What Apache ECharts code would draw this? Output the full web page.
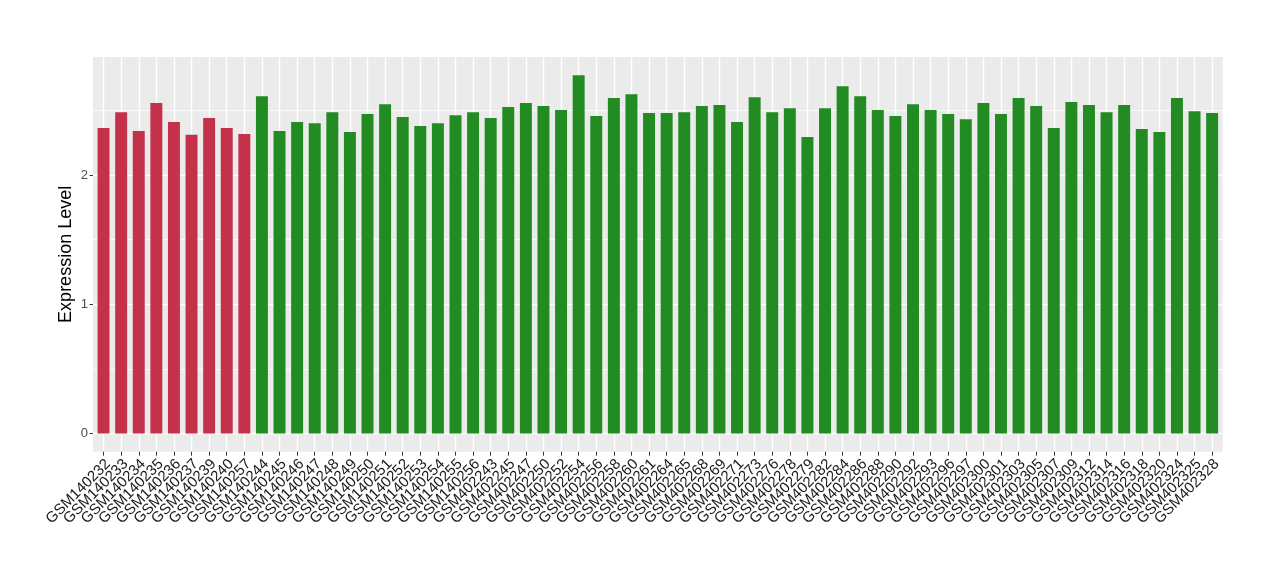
<!DOCTYPE html>
<html>
<head>
<meta charset="utf-8">
<script src="https://cdn.jsdelivr.net/npm/echarts@6/dist/echarts.min.js"></script>
<style>html,body{margin:0;padding:0;background:#fff}#c{width:1280px;height:580px}</style>
</head>
<body>
<div id="c"></div>
<script>
const categories = [
  'GSM140232','GSM140233','GSM140234','GSM140235','GSM140236','GSM140237','GSM140239','GSM140240','GSM140257',
  'GSM140244','GSM140245','GSM140246','GSM140247','GSM140248','GSM140249','GSM140250','GSM140251','GSM140252',
  'GSM140253','GSM140254','GSM140255','GSM140256',
  'GSM402243','GSM402245','GSM402247','GSM402250','GSM402252','GSM402254','GSM402256','GSM402258','GSM402260',
  'GSM402261','GSM402264','GSM402265','GSM402268','GSM402269','GSM402271','GSM402273','GSM402276','GSM402278',
  'GSM402279','GSM402282','GSM402284','GSM402286','GSM402288','GSM402290','GSM402292','GSM402293','GSM402296',
  'GSM402297','GSM402300','GSM402301','GSM402303','GSM402305','GSM402307','GSM402309','GSM402312','GSM402314',
  'GSM402316','GSM402318','GSM402320','GSM402324','GSM402325','GSM402328'
];
const values = [
  2.363, 2.486, 2.340, 2.556, 2.409, 2.311, 2.440, 2.363, 2.317,
  2.610, 2.340, 2.409, 2.400, 2.486, 2.332, 2.471, 2.548, 2.448,
  2.378, 2.400, 2.463, 2.486,
  2.440, 2.525, 2.556, 2.533, 2.502, 2.772, 2.456, 2.595, 2.625,
  2.479, 2.479, 2.486, 2.533, 2.541, 2.409, 2.602, 2.486, 2.517,
  2.293, 2.517, 2.687, 2.610, 2.502, 2.456, 2.548, 2.502, 2.471,
  2.432, 2.556, 2.471, 2.595, 2.533, 2.363, 2.564, 2.541, 2.486,
  2.541, 2.355, 2.332, 2.595, 2.494, 2.479
];
const groups = [
  'A','A','A','A','A','A','A','A','A',
  'B','B','B','B','B','B','B','B','B','B','B','B','B',
  'B','B','B','B','B','B','B','B','B','B','B','B','B','B','B','B','B','B','B','B','B',
  'B','B','B','B','B','B','B','B','B','B','B','B','B','B','B','B','B','B','B','B','B'
];
const groupColors = { A: '#C4314B', B: '#228B22' };
const yTicks = [0, 1, 2];
const yTitle = 'Expression Level';

// layout
const P = { left: 93, right: 1222.7, top: 57, bottom: 451.7 };
const y0 = 433.6, unit = 129.3;
const W = P.right - P.left, H = P.bottom - P.top;
const n = categories.length;
const u = W / (n + 0.2);
const labelShift = 4.5;
const FONT = 'Liberation Sans, Arial, Helvetica, sans-serif';

const chart = echarts.init(document.getElementById('c'));
chart.setOption({
  animation: false,
  textStyle: { fontFamily: FONT },
  grid: [
    { left: P.left, top: P.top, width: W, height: H, show: true, backgroundColor: '#EBEBEB', borderWidth: 0 },
    { left: P.left, top: y0 - 3 * unit, width: W, height: 3 * unit },
    { left: P.left + 0.6 * u, top: P.top, width: W - 1.2 * u, height: H },
    { left: P.left + 0.1 * u, top: y0 - 3 * unit, width: W - 0.2 * u, height: 3 * unit },
    { left: P.left + 0.6 * u + labelShift, top: P.top, width: W - 1.2 * u, height: H }
  ],
  xAxis: [
    { gridIndex: 0, type: 'value', show: false },
    { gridIndex: 1, type: 'value', show: false },
    { gridIndex: 2, type: 'category', boundaryGap: false, data: categories,
      axisLine: { show: false },
      axisTick: { show: true, length: 4, lineStyle: { color: '#333', width: 1 }, interval: 0 },
      axisLabel: { show: false },
      splitLine: { show: true, interval: 0, lineStyle: { color: '#FFFFFF', width: 1.4 } } },
    { gridIndex: 3, type: 'category', data: categories, show: false },
    { gridIndex: 4, type: 'category', boundaryGap: false, data: categories,
      axisLine: { show: false }, axisTick: { show: false }, splitLine: { show: false },
      axisLabel: { interval: 0, rotate: 45, fontSize: 15, color: '#1A1A1A', margin: 10, fontFamily: FONT } }
  ],
  yAxis: [
    { gridIndex: 0, type: 'value', min: 0, max: 1,
      axisLine: { show: false }, axisTick: { show: false }, axisLabel: { show: false }, splitLine: { show: false },
      name: yTitle, nameLocation: 'middle', nameGap: 18,
      nameTextStyle: { fontSize: 18, color: '#000', fontFamily: FONT } },
    { gridIndex: 1, type: 'value', min: 0, max: 3, interval: 1,
      axisLine: { show: false },
      axisTick: { show: true, length: 3.5, customValues: yTicks, lineStyle: { color: '#333', width: 1 } },
      axisLabel: { customValues: yTicks, fontSize: 13, color: '#4D4D4D', margin: 5, fontFamily: FONT },
      splitLine: { show: true, lineStyle: { color: '#FFFFFF', width: 1.4 } },
      minorTick: { show: false, splitNumber: 2 },
      minorSplitLine: { show: true, lineStyle: { color: '#FFFFFF', width: 0.8 } } },
    { gridIndex: 2, type: 'value', show: false },
    { gridIndex: 3, type: 'value', min: 0, max: 3, show: false },
    { gridIndex: 4, type: 'value', show: false }
  ],
  series: [{
    type: 'bar',
    xAxisIndex: 3, yAxisIndex: 3,
    barWidth: '68%',
    data: values.map((v, i) => ({ value: v, itemStyle: { color: groupColors[groups[i]] } }))
  }]
});
</script>
</body>
</html>
